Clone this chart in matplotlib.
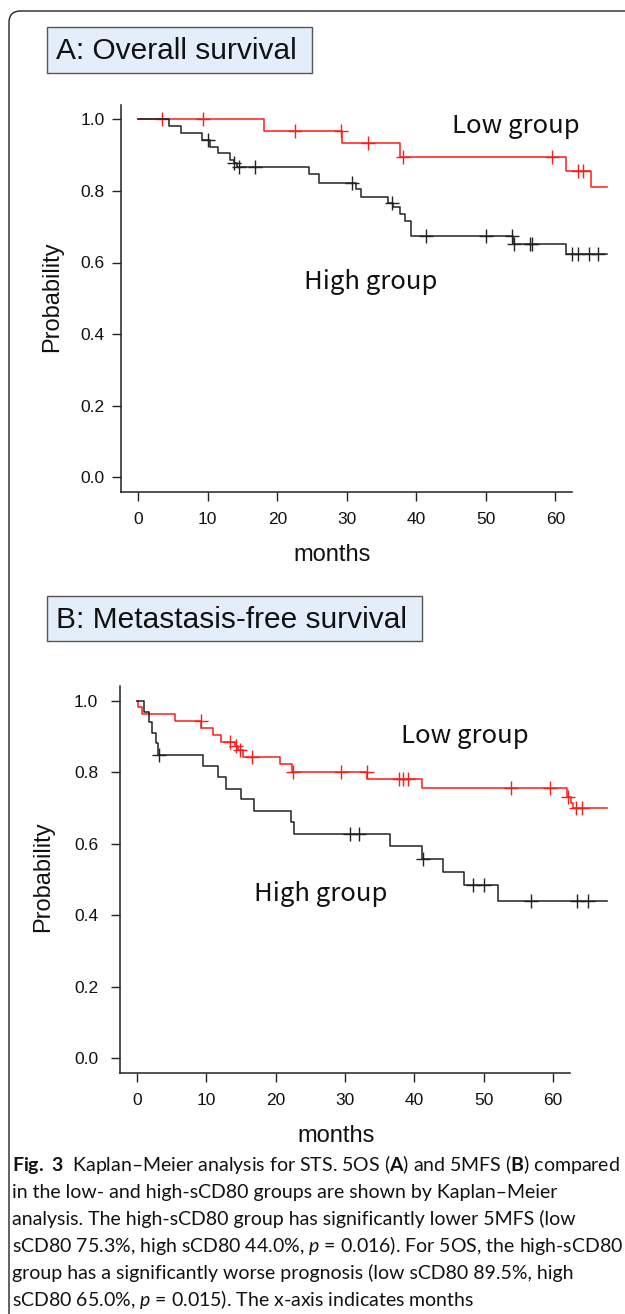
import numpy as np
import matplotlib.pyplot as plt
from matplotlib.patches import FancyBboxPatch, Rectangle

W, H = 625, 1314

# A: overall survival (months, survival probability after each step)
os_low_t = [0, 18.1, 29.3, 37.65, 61.6, 65.2]
os_low_s = [1.0, 0.968, 0.934, 0.896, 0.856, 0.810]
os_low_cens = [3.4, 9.35, 22.6, 29.2, 33.1, 38.1, 59.5, 63.2, 64.0]
os_high_t = [0, 4.45, 6.15, 9.1, 10.3, 11.4, 13.2, 13.8, 14.2, 24.6, 26.0,
             31.3, 32.1, 35.9, 36.7, 37.6, 38.4, 39.2, 53.9, 61.6]
os_high_s = [1.0, 0.981, 0.963, 0.942, 0.923, 0.905, 0.886, 0.877, 0.866, 0.847, 0.823,
             0.804, 0.784, 0.765, 0.754, 0.735, 0.717, 0.675, 0.652, 0.624]
os_high_cens = [10.0, 13.8, 14.5, 16.8, 30.7, 36.5, 41.4, 50.0, 53.7, 54.0,
                56.4, 56.7, 62.4, 63.2, 64.8, 66.2]
os_end = 67.5

# B: metastasis-free survival
mfs_low_t = [0, 0.2, 0.7, 5.45, 9.3, 11.0, 12.2, 14.2, 14.6, 15.25, 20.7, 22.35,
             33.2, 41.1, 62.0, 62.6, 62.8]
mfs_low_s = [1.0, 0.982, 0.963, 0.942, 0.923, 0.903, 0.884, 0.873, 0.862, 0.842, 0.822, 0.802,
             0.780, 0.755, 0.730, 0.714, 0.699]
mfs_low_cens = [9.2, 13.5, 14.35, 14.9, 16.65, 22.5, 29.4, 33.1, 37.8, 38.4, 39.1,
                53.9, 59.5, 62.2, 63.3, 64.1]
mfs_high_t = [0, 1.1, 1.7, 2.2, 2.8, 3.0, 9.6, 11.7, 12.8, 14.95, 16.85, 22.15, 22.65,
              36.5, 41.1, 44.1, 47.1, 52.0]
mfs_high_s = [1.0, 0.969, 0.940, 0.910, 0.881, 0.849, 0.817, 0.786, 0.754, 0.724, 0.691, 0.661, 0.627,
              0.595, 0.557, 0.522, 0.485, 0.440]
mfs_high_cens = [3.2, 30.7, 32.05, 41.3, 48.4, 50.0, 56.8, 63.5, 65.0]
mfs_end = 67.7

xticks = [0, 10, 20, 30, 40, 50, 60]
yticks = [0.0, 0.2, 0.4, 0.6, 0.8, 1.0]

caption = [
    r"$\mathbf{Fig.\ 3}$  Kaplan–Meier analysis for STS. 5OS ($\mathbf{A}$) and 5MFS ($\mathbf{B}$) compared",
    "in the low- and high-sCD80 groups are shown by Kaplan–Meier",
    "analysis. The high-sCD80 group has significantly lower 5MFS (low",
    r"sCD80 75.3%, high sCD80 44.0%, $p$ = 0.016). For 5OS, the high-sCD80",
    "group has a significantly worse prognosis (low sCD80 89.5%, high",
    r"sCD80 65.0%, $p$ = 0.015). The x-axis indicates months",
]

plt.rcParams['mathtext.fontset'] = 'custom'
plt.rcParams['mathtext.rm'] = 'Lato'
plt.rcParams['mathtext.bf'] = 'Lato:bold'
plt.rcParams['mathtext.it'] = 'Lato:italic'

fig = plt.figure(figsize=(W / 100, H / 100), dpi=100)


def fx(px):
    return px / W


def fy(py):
    return 1 - py / H


def km(ax, t, s, end, cens, color):
    t = np.asarray(t)
    s = np.asarray(s)
    ax.step(np.append(t, end), np.append(s, s[-1]), where='post', color=color, lw=1.1)
    idx = np.searchsorted(t, cens, side='right') - 1
    ax.plot(cens, s[idx], ls='none', marker='+', ms=10, mew=1.0, color=color)


def panel(x0, sx, y1, y0, ypad):
    # x0: pixel of 0 months, sx: pixels per month, y1/y0: pixel of 1.0 / 0.0
    xmin, xmax = -2.45, 69
    sy = y0 - y1
    left = x0 + xmin * sx
    right = x0 + xmax * sx
    top = y1 - 0.04 * sy
    bot = y0 + 0.04 * sy
    ax = fig.add_axes([fx(left), fy(bot), (right - left) / W, (bot - top) / H])
    ax.set_xlim(xmin, xmax)
    ax.set_ylim(-0.04, 1.04)
    for side in ['top', 'right']:
        ax.spines[side].set_visible(False)
    for side in ['left', 'bottom']:
        ax.spines[side].set_color('#222222')
        ax.spines[side].set_linewidth(1.1)
    ax.spines['bottom'].set_bounds(xmin, 62.4)
    ax.set_xticks(xticks)
    ax.set_yticks(yticks)
    ax.set_yticklabels([f"{v:.1f}" for v in yticks])
    ax.tick_params(axis='both', length=6.5, width=1.0, color='#222222',
                   labelsize=12.5, labelcolor='#111111')
    ax.tick_params(axis='y', pad=ypad)
    ax.tick_params(axis='x', pad=8)
    for lab in ax.get_xticklabels() + ax.get_yticklabels():
        lab.set_family('Liberation Sans')
    ax.patch.set_alpha(0)
    return ax


def title_box(x0, x1, y0, y1, text):
    fig.add_artist(Rectangle((fx(x0), fy(y1)), (x1 - x0) / W, (y1 - y0) / H,
                             transform=fig.transFigure, facecolor='#e4eefa',
                             edgecolor='#555555', lw=1.0))
    fig.text(fx(x0 + 9), fy((y0 + y1) / 2 + 1), text, family='Liberation Sans',
             fontsize=21.5, ha='left', va='center', color='#111111')


# outer rounded frame
fig.add_artist(FancyBboxPatch((fx(9), fy(1400)), 2, (1400 - 11) / H,
                              boxstyle='round,pad=0,rounding_size=0.018',
                              transform=fig.transFigure, facecolor='none',
                              edgecolor='#222222', lw=1.0, mutation_aspect=W / H))

# panel A
title_box(47, 312, 27, 73, "A: Overall survival")
axA = panel(138.3, 6.95, 119.3, 477.3, 5.5)
km(axA, os_low_t, os_low_s, os_end, os_low_cens, '#ff1a1a')
km(axA, os_high_t, os_high_s, os_end, os_high_cens, '#222222')
axA.text(54.3, 0.962, "Low group", family='Noto Sans CJK JP', fontsize=18.5,
         ha='center', va='baseline', color='#111111')
axA.text(33.4, 0.527, "High group", family='Noto Sans CJK JP', fontsize=18.5,
         ha='center', va='baseline', color='#111111')
fig.text(fx(52), fy(297), "Probability", rotation=90, family='Liberation Sans',
         fontsize=17, ha='center', va='center', color='#111111')
fig.text(fx(332), fy(561), "months", family='Liberation Sans',
         fontsize=17, ha='center', va='baseline', color='#111111')

# panel B
title_box(47, 422, 596, 641, "B: Metastasis-free survival")
axB = panel(136.8, 6.94, 700.7, 1058.3, 9)
km(axB, mfs_low_t, mfs_low_s, mfs_end, mfs_low_cens, '#ff1a1a')
km(axB, mfs_high_t, mfs_high_s, mfs_end, mfs_high_cens, '#222222')
axB.text(47.3, 0.883, "Low group", family='Noto Sans CJK JP', fontsize=18.5,
         ha='center', va='baseline', color='#111111')
axB.text(26.5, 0.441, "High group", family='Noto Sans CJK JP', fontsize=18.5,
         ha='center', va='baseline', color='#111111')
fig.text(fx(43), fy(877), "Probability", rotation=90, family='Liberation Sans',
         fontsize=17, ha='center', va='center', color='#111111')
fig.text(fx(336), fy(1142), "months", family='Liberation Sans',
         fontsize=17, ha='center', va='baseline', color='#111111')

# caption
for i, line in enumerate(caption):
    fig.text(fx(12), fy(1171 + i * 27), line, family='Lato', fontsize=14,
             ha='left', va='baseline', color='#111111')

fig.savefig('out.png', dpi=100, facecolor='white')
